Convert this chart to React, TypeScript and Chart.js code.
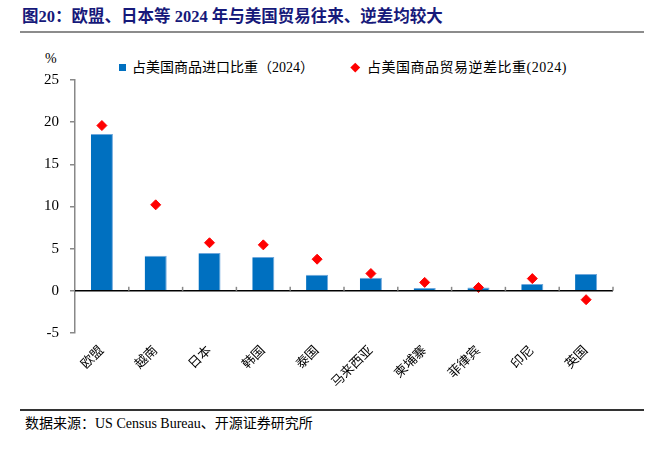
import React, { useEffect, useRef } from "react";
import { Chart, registerables } from "chart.js";

Chart.register(...registerables);

const categories = ["欧盟", "越南", "日本", "韩国", "泰国", "马来西亚", "柬埔寨", "菲律宾", "印尼", "英国"];
const importShare = [18.6, 4.15, 4.5, 4.0, 1.9, 1.55, 0.35, 0.4, 0.8, 2.0];
const deficitShare = [19.6, 10.2, 5.7, 5.45, 3.75, 2.05, 1.0, 0.4, 1.45, -1.05];
const yTicks = [-5, 0, 5, 10, 15, 20, 25];

const seriesNames = ["占美国商品进口比重（2024）", "占美国商品贸易逆差比重(2024)"];
const FONT = "'Liberation Serif', 'Noto Sans CJK SC', serif";

const zeroLinePlugin = {
  id: "zeroLine",
  afterDatasetsDraw(chart: any) {
    const x = chart.scales.x;
    const y = chart.scales.y;
    const ctx = chart.ctx;
    const y0 = y.getPixelForValue(0);
    ctx.save();
    ctx.strokeStyle = "#000";
    ctx.lineWidth = 1.5;
    ctx.beginPath();
    ctx.moveTo(chart.chartArea.left, y0);
    ctx.lineTo(chart.chartArea.right, y0);
    ctx.stroke();
    ctx.strokeStyle = "#888";
    ctx.lineWidth = 1.5;
    const n = categories.length;
    for (let i = 1; i <= n; i++) {
      const px = i < n ? (x.getPixelForValue(i - 1) + x.getPixelForValue(i)) / 2 : chart.chartArea.right;
      ctx.beginPath();
      ctx.moveTo(px, y0);
      ctx.lineTo(px, y0 - 4);
      ctx.stroke();
    }
    ctx.restore();
  },
};

export default function App() {
  const ref = useRef<HTMLCanvasElement>(null);
  useEffect(() => {
    if (!ref.current) return;
    const chart = new Chart(ref.current, {
      type: "bar",
      data: {
        labels: categories,
        datasets: [
          {
            type: "bar",
            label: seriesNames[0],
            data: importShare,
            backgroundColor: "#0070C0",
            borderColor: "#6fa8dc",
            borderWidth: { top: 1, right: 1, left: 0, bottom: 0 },
            categoryPercentage: 1,
            barPercentage: 0.41,
            order: 1,
          },
          {
            type: "line",
            label: seriesNames[1],
            data: deficitShare,
            showLine: false,
            pointStyle: "rectRot",
            pointRadius: 5,
            pointBackgroundColor: "#FF0000",
            pointBorderColor: "#FF0000",
            pointBorderWidth: 1,
            order: 0,
          },
        ],
      } as any,
      options: {
        animation: false,
        responsive: false,
        layout: { padding: { top: 39, right: 50, left: 0, bottom: 0 } },
        plugins: { legend: { display: false }, tooltip: { enabled: false } },
        scales: {
          x: {
            grid: { display: false, drawTicks: false },
            border: { display: false },
            ticks: {
              maxRotation: 45,
              minRotation: 45,
              autoSkip: false,
              padding: 10,
              color: "#000",
              font: { family: FONT, size: 13 },
            },
            afterFit: (s: any) => {
              s.height = 73;
            },
          },
          y: {
            min: -5,
            max: 25,
            afterBuildTicks: (s: any) => {
              s.ticks = yTicks.map((v) => ({ value: v }));
            },
            grid: { drawOnChartArea: false, drawTicks: true, tickLength: 5, color: "#888", lineWidth: 1.5 },
            border: { color: "#888", width: 1.5 },
            ticks: {
              padding: 11,
              color: "#000",
              font: { family: FONT, size: 15 },
            },
            afterFit: (s: any) => {
              s.width = 75;
            },
          },
        },
      },
      plugins: [zeroLinePlugin],
    });
    return () => chart.destroy();
  }, []);

  return (
    <div style={{ position: "fixed", left: 0, top: 0, width: 663, height: 451, background: "#fff", fontFamily: FONT, color: "#000" }}>
      <div style={{ position: "absolute", left: 22, top: 6, fontSize: 16.5, fontWeight: "bold", color: "#16197a", whiteSpace: "nowrap", lineHeight: "22px" }}>
        图20：欧盟、日本等 2024 年与美国贸易往来、逆差均较大
      </div>
      <div style={{ position: "absolute", left: 20, top: 31, width: 624, height: 2, background: "#8c8c8c" }} />
      <div style={{ position: "absolute", left: 45, top: 51, fontSize: 14, lineHeight: "16px" }}>%</div>
      <div style={{ position: "absolute", left: 119, top: 64, width: 7, height: 7, background: "#0070C0" }} />
      <div style={{ position: "absolute", left: 132, top: 59, fontSize: 14, lineHeight: "18px", whiteSpace: "nowrap" }}>{seriesNames[0]}</div>
      <div style={{ position: "absolute", left: 352, top: 64, width: 6.5, height: 6.5, background: "#FF0000", transform: "rotate(45deg)" }} />
      <div style={{ position: "absolute", left: 367, top: 59, fontSize: 14, lineHeight: "18px", whiteSpace: "nowrap", letterSpacing: 0.5 }}>{seriesNames[1]}</div>
      <div style={{ position: "absolute", left: 0, top: 41, width: 663, height: 365 }}>
        <canvas ref={ref} width={663} height={365} style={{ display: "block" }} />
      </div>
      <div style={{ position: "absolute", left: 20, top: 409, width: 624, height: 1.5, background: "#333" }} />
      <div style={{ position: "absolute", left: 25, top: 415, fontSize: 14, lineHeight: "18px", whiteSpace: "nowrap" }}>
        数据来源：US Census Bureau、开源证券研究所
      </div>
    </div>
  );
}
